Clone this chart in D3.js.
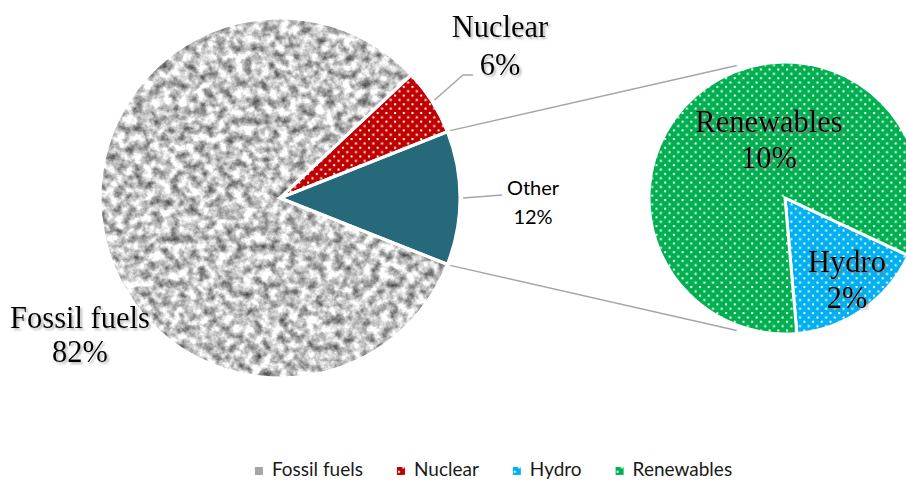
<!DOCTYPE html>
<html>
<head>
<meta charset="utf-8">
<script src="https://cdn.jsdelivr.net/npm/d3@7"></script>
<style>
  html, body { margin: 0; padding: 0; background: #ffffff; }
  svg { display: block; }
</style>
</head>
<body>
<svg id="chart" width="906" height="484"></svg>
<script>
// Primary pie: energy mix
const mainCategories = ["Fossil fuels", "Nuclear", "Other"];
const mainValues = [82, 6, 12];
// Secondary pie: breakdown of "Other"
const subCategories = ["Hydro", "Renewables"];
const subValues = [2, 10];
// Legend entries
const legendItems = ["Fossil fuels", "Nuclear", "Hydro", "Renewables"];

const W = 906, H = 484;
const svg = d3.select("#chart");
const defs = svg.append("defs");

const baseColors = {
  "Fossil fuels": "#a6a6a6",
  "Nuclear": "#c00000",
  "Other": "#25697a",
  "Hydro": "#00b0f0",
  "Renewables": "#00b050"
};

// dotted pattern fills
function dotPattern(id, color) {
  const s = 8.7;
  const p = defs.append("pattern")
    .attr("id", id)
    .attr("patternUnits", "userSpaceOnUse")
    .attr("width", s).attr("height", s);
  p.append("rect").attr("width", s).attr("height", s).attr("fill", color);
  p.append("rect").attr("x", 1).attr("y", 1).attr("width", 2).attr("height", 2).attr("fill", "#ffffff");
  p.append("rect").attr("x", 1 + s / 2).attr("y", 1 + s / 2).attr("width", 2).attr("height", 2).attr("fill", "#ffffff");
}
dotPattern("dots-nuclear", baseColors["Nuclear"]);
dotPattern("dots-hydro", baseColors["Hydro"]);
dotPattern("dots-renew", baseColors["Renewables"]);

// granite texture for fossil fuels
const granite = defs.append("filter")
  .attr("id", "granite")
  .attr("color-interpolation-filters", "sRGB")
  .attr("x", "0%").attr("y", "0%").attr("width", "100%").attr("height", "100%");
granite.append("feTurbulence")
  .attr("type", "fractalNoise")
  .attr("baseFrequency", "0.11")
  .attr("numOctaves", 4)
  .attr("seed", 7)
  .attr("result", "noise");
granite.append("feGaussianBlur")
  .attr("in", "noise").attr("stdDeviation", 0.7).attr("result", "soft");
granite.append("feColorMatrix")
  .attr("in", "soft")
  .attr("type", "matrix")
  .attr("values", "1 0 0 0 0  1 0 0 0 0  1 0 0 0 0  0 0 0 0 1")
  .attr("result", "gray");
const ct = granite.append("feComponentTransfer").attr("in", "gray").attr("result", "contrast");
["feFuncR", "feFuncG", "feFuncB"].forEach(f =>
  ct.append(f).attr("type", "linear").attr("slope", 1.25).attr("intercept", 0.15));
granite.append("feComposite")
  .attr("in", "contrast").attr("in2", "SourceGraphic").attr("operator", "in");

// soft shadow behind label text
const shadow = defs.append("filter").attr("id", "txtShadow")
  .attr("x", "-10%").attr("y", "-20%").attr("width", "130%").attr("height", "150%");
shadow.append("feDropShadow")
  .attr("dx", 2).attr("dy", 2).attr("stdDeviation", 1.3)
  .attr("flood-color", "#7f7f7f").attr("flood-opacity", 0.55);

const fillFor = {
  "Fossil fuels": baseColors["Fossil fuels"],
  "Nuclear": "url(#dots-nuclear)",
  "Other": baseColors["Other"],
  "Hydro": "url(#dots-hydro)",
  "Renewables": "url(#dots-renew)"
};

const deg = Math.PI / 180;

// ---- primary pie ----
const mainC = { x: 280, y: 198 }, mainR = 180;
const otherShare = mainValues[2] / d3.sum(mainValues);
const mainStart = 90 * deg + otherShare * Math.PI; // "Other" centred at 3 o'clock
const mainPie = d3.pie().sort(null).startAngle(mainStart).endAngle(mainStart + 2 * Math.PI);
const mainArcs = mainPie(mainValues).map((a, i) => ({ ...a, name: mainCategories[i] }));
const mainArc = d3.arc().innerRadius(0).outerRadius(mainR);

const gMain = svg.append("g").attr("transform", `translate(${mainC.x},${mainC.y})`);
gMain.selectAll("path")
  .data(mainArcs)
  .join("path")
  .attr("d", mainArc)
  .attr("fill", d => fillFor[d.name])
  .attr("filter", d => d.name === "Fossil fuels" ? "url(#granite)" : null);
// white slice borders
gMain.selectAll("path.border")
  .data(mainArcs)
  .join("path")
  .attr("class", "border")
  .attr("d", mainArc)
  .attr("fill", "none")
  .attr("stroke", "#ffffff")
  .attr("stroke-width", 3)
  .attr("stroke-linejoin", "miter");

// ---- secondary pie ----
const subC = { x: 785, y: 198 }, subR = 136;
const subStart = 115 * deg;
const subPie = d3.pie().sort(null).startAngle(subStart).endAngle(subStart + 2 * Math.PI);
const subArcs = subPie(subValues).map((a, i) => ({ ...a, name: subCategories[i] }));
const subArc = d3.arc().innerRadius(0).outerRadius(subR);

const gSub = svg.append("g").attr("transform", `translate(${subC.x},${subC.y})`);
gSub.selectAll("path")
  .data(subArcs)
  .join("path")
  .attr("d", subArc)
  .attr("fill", d => fillFor[d.name])
  .attr("stroke", "#ffffff")
  .attr("stroke-width", 3);

// ---- connector lines between the two pies ----
const other = mainArcs.find(d => d.name === "Other");
function polar(c, r, a) { return [c.x + r * Math.sin(a), c.y - r * Math.cos(a)]; }
const connectors = [
  [polar(mainC, mainR + 3, other.startAngle), polar(subC, subR + 5, -20 * deg)],
  [polar(mainC, mainR + 3, other.endAngle), polar(subC, subR + 5, 200 * deg)]
];
svg.append("g").selectAll("line")
  .data(connectors)
  .join("line")
  .attr("x1", d => d[0][0]).attr("y1", d => d[0][1])
  .attr("x2", d => d[1][0]).attr("y2", d => d[1][1])
  .attr("stroke", "#a6a6a6").attr("stroke-width", 1.5);

// ---- leader lines ----
const nuclear = mainArcs.find(d => d.name === "Nuclear");
const nucMid = (nuclear.startAngle + nuclear.endAngle) / 2;
const nucP = polar(mainC, mainR + 3, nucMid);
const otherMid = (other.startAngle + other.endAngle) / 2;
const othP = polar(mainC, mainR + 3, otherMid);
const line = d3.line();
const leaders = svg.append("g").attr("fill", "none").attr("stroke", "#a6a6a6").attr("stroke-width", 1.5);
leaders.append("path").attr("d", line([nucP, [463, 75], [473, 75]]));
leaders.append("path").attr("d", line([othP, [502, 195]]));

// ---- data labels ----
const fmt = v => v + "%";
const serifLabels = [
  { name: "Nuclear", value: mainValues[1], x: 500, y: 37, gap: 38 },
  { name: "Fossil fuels", value: mainValues[0], x: 80, y: 328, gap: 34 },
  { name: "Renewables", value: subValues[1], x: 769, y: 132, gap: 36 },
  { name: "Hydro", value: subValues[0], x: 847, y: 272, gap: 36 }
];
const lab = svg.append("g")
  .attr("font-family", "'Liberation Serif', 'Times New Roman', serif")
  .attr("font-size", 30.5)
  .attr("fill", "#000000")
  .attr("text-anchor", "middle")
  .attr("filter", "url(#txtShadow)");
serifLabels.forEach(l => {
  lab.append("text").attr("x", l.x).attr("y", l.y).text(l.name);
  lab.append("text").attr("x", l.x).attr("y", l.y + l.gap).text(fmt(l.value));
});

const otherLab = svg.append("g")
  .attr("font-family", "Lato, 'Open Sans', sans-serif")
  .attr("font-size", 20)
  .attr("fill", "#000000")
  .attr("text-anchor", "middle");
otherLab.append("text").attr("x", 533).attr("y", 195).text(mainCategories[2]);
otherLab.append("text").attr("x", 533).attr("y", 224).text(fmt(mainValues[2]));

// ---- legend ----
const legend = svg.append("g")
  .attr("font-family", "Lato, 'Open Sans', sans-serif")
  .attr("font-size", 19)
  .attr("fill", "#1a1a1a");
const swatch = 8, swGap = 9, itemGap = 34, legY = 476;
const items = legendItems.map(name => {
  const g = legend.append("g");
  g.append("rect").attr("width", swatch).attr("height", swatch)
    .attr("y", legY - 9).attr("fill", name === "Fossil fuels" ? "#a6a6a6" : fillFor[name]);
  const t = g.append("text").attr("x", swatch + swGap).attr("y", legY).text(name);
  return { g, w: swatch + swGap + t.node().getComputedTextLength() };
});
const totalW = d3.sum(items, d => d.w) + itemGap * (items.length - 1);
let lx = 493.5 - totalW / 2;
items.forEach(it => {
  it.g.attr("transform", `translate(${lx},0)`);
  lx += it.w + itemGap;
});
</script>
</body>
</html>
